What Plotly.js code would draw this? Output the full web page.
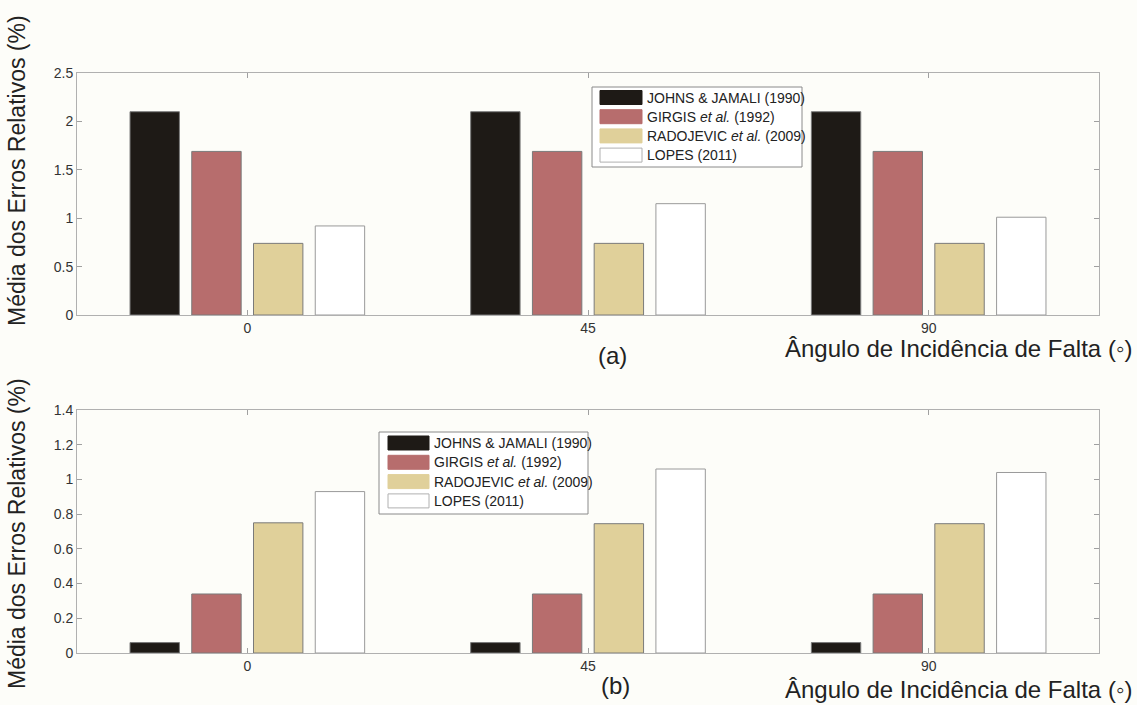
<!DOCTYPE html>
<html>
<head>
<meta charset="utf-8">
<script src="https://cdn.plot.ly/plotly-3.0.1.min.js"></script>
<style>html,body{margin:0;padding:0;background:#fdfdf9;}#chart{width:1137px;height:705px;}</style>
</head>
<body>
<div id="chart"></div>
<script>
// ---- data ----
const categories = ['0', '45', '90'];
const seriesNames = ['JOHNS & JAMALI (1990)', 'GIRGIS <i>et al.</i> (1992)', 'RADOJEVIC <i>et al.</i> (2009)', 'LOPES (2011)'];
const seriesColors = ['#1e1a16', '#b76d6d', '#e0d09a', '#ffffff'];
// panel (a)
const johnsA = [2.10, 2.10, 2.10];
const girgisA = [1.69, 1.69, 1.69];
const radojevicA = [0.74, 0.74, 0.74];
const lopesA = [0.92, 1.15, 1.01];
// panel (b)
const johnsB = [0.06, 0.06, 0.06];
const girgisB = [0.34, 0.34, 0.34];
const radojevicB = [0.75, 0.745, 0.745];
const lopesB = [0.93, 1.06, 1.04];

const yTitle = 'Média dos Erros Relativos (%)';
const xTitle = 'Ângulo de Incidência de Falta (◦)';

const W = 1137, H = 705;
const px = v => v / W;
const py = v => 1 - v / H;

const traces = [];
const panelA = [johnsA, girgisA, radojevicA, lopesA];
const panelB = [johnsB, girgisB, radojevicB, lopesB];
panelA.forEach((vals, i) => traces.push({
  type: 'bar', x: categories, y: vals, name: seriesNames[i], xaxis: 'x', yaxis: 'y',
  marker: {color: seriesColors[i], line: {color: i === 3 ? '#9a9a9a' : '#7a7a7a', width: 1}},
  showlegend: false, hoverinfo: 'y'
}));
panelB.forEach((vals, i) => traces.push({
  type: 'bar', x: categories, y: vals, name: seriesNames[i], xaxis: 'x2', yaxis: 'y2',
  marker: {color: seriesColors[i], line: {color: i === 3 ? '#9a9a9a' : '#7a7a7a', width: 1}},
  showlegend: false, hoverinfo: 'y'
}));

const FONT = 'Liberation Sans, Arial, sans-serif';
const tickFont = {family: FONT, size: 14, color: '#333'};
const axisCommon = {
  showline: true, linecolor: '#b0b0b0', linewidth: 1, mirror: 'ticks',
  ticks: 'inside', ticklen: 5, tickcolor: '#a0a0a0', showgrid: false, zeroline: false,
  tickfont: tickFont, fixedrange: true
};
const xDomain = [px(77), px(1099)];

const shapes = [];
const annotations = [];

function addLegend(box, sw, rowY, textX) {
  shapes.push({type: 'rect', xref: 'paper', yref: 'paper', x0: px(box[0]), x1: px(box[1]), y0: py(box[3]), y1: py(box[2]),
    line: {color: '#8a8a8a', width: 1}, fillcolor: '#ffffff', layer: 'above'});
  seriesNames.forEach((nm, i) => {
    const yc = rowY[0] + i * rowY[1];
    shapes.push({type: 'rect', xref: 'paper', yref: 'paper', x0: px(sw[0]), x1: px(sw[1]), y0: py(yc + 7), y1: py(yc - 7),
      line: {color: i === 3 ? '#b0b0b0' : seriesColors[i], width: 1}, fillcolor: seriesColors[i], layer: 'above'});
    annotations.push({xref: 'paper', yref: 'paper', x: px(textX), y: py(yc), xanchor: 'left', yanchor: 'middle',
      text: nm, showarrow: false, font: {family: FONT, size: 14, color: '#222'}});
  });
}
addLegend([592, 802, 87, 167], [600, 642], [97.5, 19.2], 645);
addLegend([379, 588, 432, 514], [388, 429], [443, 19.3], 432);

const titleFont = {family: FONT, size: 24, color: '#222'};
const yTitleFont = {family: FONT, size: 23, color: '#222'};
annotations.push({xref: 'paper', yref: 'paper', x: px(17), y: py(171), text: yTitle, textangle: -90, showarrow: false, xanchor: 'center', yanchor: 'middle', font: yTitleFont});
annotations.push({xref: 'paper', yref: 'paper', x: px(17), y: py(534), text: yTitle, textangle: -90, showarrow: false, xanchor: 'center', yanchor: 'middle', font: yTitleFont});
annotations.push({xref: 'paper', yref: 'paper', x: px(1134), y: py(349), text: xTitle, showarrow: false, xanchor: 'right', yanchor: 'middle', font: titleFont});
annotations.push({xref: 'paper', yref: 'paper', x: px(1134), y: py(689), text: xTitle, showarrow: false, xanchor: 'right', yanchor: 'middle', font: titleFont});
annotations.push({xref: 'paper', yref: 'paper', x: px(612), y: py(356), text: '(a)', showarrow: false, xanchor: 'center', yanchor: 'middle', font: titleFont});
annotations.push({xref: 'paper', yref: 'paper', x: px(615), y: py(685), text: '(b)', showarrow: false, xanchor: 'center', yanchor: 'middle', font: titleFont});

const layout = {
  width: W, height: H,
  margin: {l: 0, r: 0, t: 0, b: 0},
  paper_bgcolor: '#fdfdf9', plot_bgcolor: '#fdfdf9',
  barmode: 'group', bargap: 0.275, bargroupgap: 0.2,
  showlegend: false,
  xaxis: Object.assign({}, axisCommon, {domain: xDomain, anchor: 'y', type: 'category'}),
  yaxis: Object.assign({}, axisCommon, {domain: [py(315), py(73)], anchor: 'x', range: [0, 2.5], dtick: 0.5, tick0: 0}),
  xaxis2: Object.assign({}, axisCommon, {domain: xDomain, anchor: 'y2', type: 'category'}),
  yaxis2: Object.assign({}, axisCommon, {domain: [py(653), py(410)], anchor: 'x2', range: [0, 1.4], dtick: 0.2, tick0: 0}),
  shapes: shapes,
  annotations: annotations
};

Plotly.newPlot('chart', traces, layout, {displayModeBar: false, staticPlot: true});
</script>
</body>
</html>
